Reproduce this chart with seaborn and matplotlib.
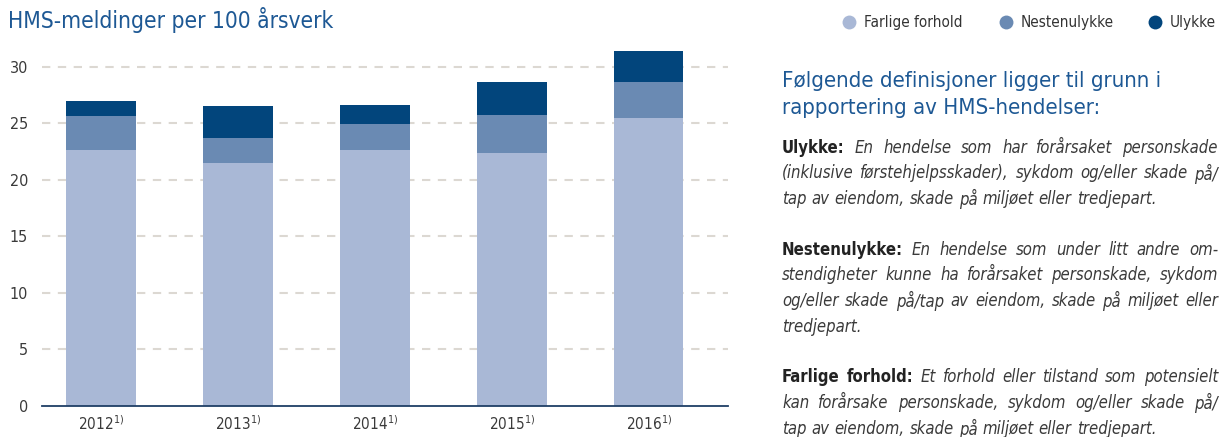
import matplotlib
matplotlib.use("Agg")
import matplotlib.pyplot as plt
from matplotlib.lines import Line2D
import seaborn as sns
import pandas as pd
import numpy as np

years = ["2012", "2013", "2014", "2015", "2016"]
farlige = [22.6, 21.5, 22.6, 22.4, 25.5]
nesten = [3.0, 2.2, 2.3, 3.3, 3.1]
ulykke = [1.4, 2.8, 1.7, 2.9, 2.8]
series_names = ["Farlige forhold", "Nestenulykke", "Ulykke"]
colors = ["#a9b8d6", "#6a8ab3", "#02457c"]
yticks = [0, 5, 10, 15, 20, 25, 30]

title = "HMS-meldinger per 100 årsverk"
heading = ["Følgende definisjoner ligger til grunn i", "rapportering av HMS-hendelser:"]
paragraphs = [
    ("Ulykke:", ["En hendelse som har forårsaket personskade",
                 "(inklusive førstehjelpsskader), sykdom og/eller skade på/",
                 "tap av eiendom, skade på miljøet eller tredjepart."]),
    ("Nestenulykke:", ["En hendelse som under litt andre om-",
                       "stendigheter kunne ha forårsaket personskade, sykdom",
                       "og/eller skade på/tap av eiendom, skade på miljøet eller",
                       "tredjepart."]),
    ("Farlige forhold:", ["Et forhold eller tilstand som potensielt",
                          "kan forårsake personskade, sykdom og/eller skade på/",
                          "tap av eiendom, skade på miljøet eller tredjepart."]),
]

sns.set_theme(style="white")
FONT = ["DejaVu Sans"]
plt.rcParams["font.family"] = FONT
plt.rcParams["font.stretch"] = "condensed"

W, H = 1220, 437
fig = plt.figure(figsize=(W / 100, H / 100), dpi=100)
ax = fig.add_axes([42 / W, 1 - 406 / H, (728 - 42) / W, (406 - 44) / H])

df = pd.DataFrame({"year": years, "f": farlige, "n": nesten, "u": ulykke})
df["c1"] = df["f"]
df["c2"] = df["f"] + df["n"]
df["c3"] = df["f"] + df["n"] + df["u"]

for col, colr in zip(["c3", "c2", "c1"], colors[::-1]):
    sns.barplot(data=df, x="year", y=col, color=colr, width=0.51, ax=ax,
                saturation=1, order=years, errorbar=None, linewidth=0, zorder=3)

ax.set_xlim(-0.43, 4.58)
ax.set_ylim(0, 32)
ax.set_yticks(yticks)
ax.set_yticklabels([str(t) for t in yticks], fontsize=11.5, color="#3a3a3a")
ax.set_xticks(range(len(years)))
ax.set_xticklabels([y + r"$^{1)}$" for y in years], fontsize=11, color="#3a3a3a")
ax.tick_params(axis="both", length=0, pad=6)
ax.tick_params(axis="y", pad=10)
ax.set_xlabel("")
ax.set_ylabel("")
for s in ["top", "right", "left"]:
    ax.spines[s].set_visible(False)
ax.spines["bottom"].set_color("#1f3f66")
ax.spines["bottom"].set_linewidth(1.3)
ax.spines["bottom"].set_zorder(5)
for t in yticks[1:]:
    ln = ax.axhline(t, color="#dcd8d2", lw=1.5, zorder=1)
    ln.set_dashes((4, 3.6))

fig.text(8 / W, 1 - 20 / H, title, fontsize=16.3, color="#1d5894", va="center", ha="left")

# legend
lx = [849, 1006, 1155]
for x, name, c in zip(lx, series_names, colors):
    fig.add_artist(Line2D([x / W], [1 - 22 / H], marker="o", markersize=10, color=c,
                          markeredgewidth=0, transform=fig.transFigure))
    fig.text((x + 15) / W, 1 - 22 / H, name, fontsize=11, color="#333333", va="center", ha="left")

for i, line in enumerate(heading):
    fig.text(782 / W, 1 - (81 + i * 27) / H, line, fontsize=15.9, color="#1d5894", va="center", ha="left")

renderer = fig.canvas.get_renderer()
BODY_FS = 12
X0, X1 = 782, 1218


def draw_line(y, words, justify):
    arts = []
    widths = []
    for w, style in words:
        kw = dict(fontsize=BODY_FS, va="center", ha="left")
        if style == "bold":
            kw.update(fontweight="bold", color="#222222")
        else:
            kw.update(fontstyle="italic", color="#3a3a3a")
        t = fig.text(0, 1 - y / H, w, **kw)
        arts.append(t)
        widths.append(t.get_window_extent(renderer).width)
    space = BODY_FS * 100 / 72 * 0.3
    n = len(words)
    if justify and n > 1:
        gap = (X1 - X0 - sum(widths)) / (n - 1)
    else:
        gap = space
    x = X0
    for t, wdt in zip(arts, widths):
        t.set_x(x / W)
        x += wdt + gap


y = 148
for label, lines in paragraphs:
    for j, line in enumerate(lines):
        words = [(w, "italic") for w in line.split()]
        if j == 0:
            words = [(label.split()[k], "bold") for k in range(len(label.split()))] + words
        draw_line(y, words, justify=(j < len(lines) - 1))
        y += 25.5
    y += 25.5

fig.savefig("out.png", dpi=100)
